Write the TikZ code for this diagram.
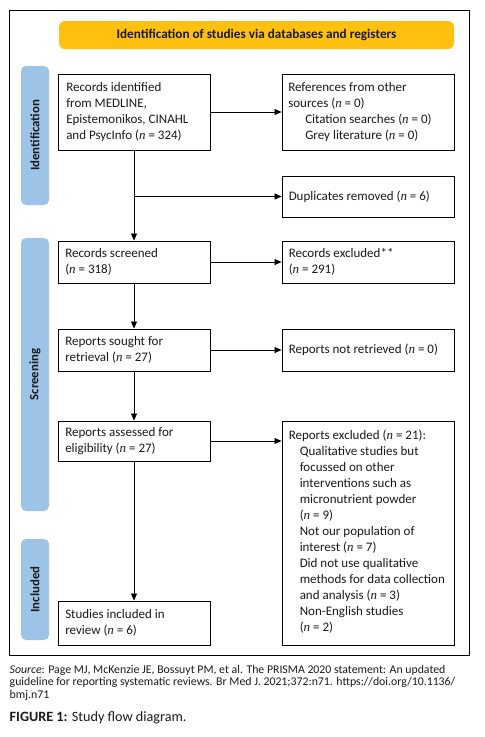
\documentclass[tikz,border=0pt]{standalone}
\usepackage{fontspec}
\setmainfont{Carlito}
\newfontfamily\serifit{Liberation Serif}
\usetikzlibrary{arrows.meta}
\newcommand{\nn}{{\serifit\itshape n}}
\definecolor{gold}{HTML}{FFC010}
\definecolor{barblue}{HTML}{9DC3E6}
\definecolor{txt}{HTML}{1A1A1A}
\begin{document}
\begin{tikzpicture}[x=1pt,y=-1pt,
  box/.style={draw=black, line width=0.9pt, fill=white, inner sep=0pt},
  lbox/.style={box, minimum width=152pt},
  rbox/.style={box, minimum width=172pt},
  btxt/.style={inner sep=0pt, anchor=west, align=left, font=\fontsize{13}{16}\selectfont, text=txt},
  bar/.style={fill=barblue, rounded corners=5pt, minimum width=28pt, inner sep=0pt},
  barlabel/.style={rotate=90, font=\bfseries\fontsize{12.8}{14}\selectfont, text=txt},
  arr/.style={line width=0.8pt, -{Triangle[length=7pt,width=6pt]}}]
\useasboundingbox (0,0) rectangle (485,737);
\node[draw=black, line width=0.8pt, minimum width=459.5pt, minimum height=644.3pt, inner sep=0pt] (frame) at (239.25,332.85) {};
\node[fill=gold, rounded corners=6pt, minimum width=395pt, minimum height=28pt, inner sep=0pt,
  font=\bfseries\fontsize{13.2}{15}\selectfont, text=txt] (banner) at (256.5,35) {Identification of studies via databases and registers};
\node[bar, minimum height=139pt] (bid) at (35,135.5) {};
\node[barlabel] (lid) at (bid.center) {Identification};
\node[bar, minimum height=273pt] (bsc) at (35,374.5) {};
\node[barlabel] (lsc) at (bsc.center) {Screening};
\node[bar, minimum height=101pt] (bin) at (35,589.5) {};
\node[barlabel] (lin) at (bin.center) {Included};
% boxes
\node[lbox, minimum height=76pt] (b1) at (134,112) {};
\node[rbox, minimum height=76pt] (r1) at (368,112) {};
\node[rbox, minimum height=41pt] (dup) at (368,196.5) {};
\node[lbox, minimum height=42pt] (rs) at (134,262) {};
\node[rbox, minimum height=42pt] (re) at (368,262) {};
\node[lbox, minimum height=42pt] (so) at (134,350) {};
\node[rbox, minimum height=42pt] (nr) at (368,350) {};
\node[lbox, minimum height=40pt] (ra) at (134,441) {};
\node[rbox, minimum height=224pt] (rx) at (368,533) {};
\node[lbox, minimum height=44pt] (si) at (134,623) {};
% texts
\node[btxt] (t1) at ([xshift=8.5pt]b1.west) {Records identified\\from MEDLINE,\\Epistemonikos, CINAHL\\and PsycInfo (\nn{} = 324)};
\node[btxt] (tr1) at ([xshift=6.5pt]r1.west) {References from other\\sources (\nn{} = 0)\\\hspace*{17pt}Citation searches (\nn{} = 0)\\\hspace*{17pt}Grey literature (\nn{} = 0)};
\node[btxt] (tdup) at ([xshift=7pt]dup.west) {Duplicates removed (\nn{} = 6)};
\node[btxt] (trs) at ([xshift=7.5pt]rs.west) {Records screened\\(\nn{} = 318)};
\node[btxt] (tre) at ([xshift=7pt]re.west) {Records excluded**\\(\nn{} = 291)};
\node[btxt] (tso) at ([xshift=7.5pt]so.west) {Reports sought for\\retrieval (\nn{} = 27)};
\node[btxt] (tnr) at ([xshift=7pt]nr.west) {Reports not retrieved (\nn{} = 0)};
\node[btxt] (tra) at ([xshift=7.5pt]ra.west) {Reports assessed for\\eligibility (\nn{} = 27)};
\node[btxt] (trx) at ([xshift=7pt,yshift=1pt]rx.west) {Reports excluded (\nn{} = 21):\\
\hspace*{11pt}Qualitative studies but\\
\hspace*{11pt}focussed on other\\
\hspace*{11pt}interventions such as\\
\hspace*{11pt}micronutrient powder\\
\hspace*{11pt}(\nn{} = 9)\\
\hspace*{11pt}Not our population of\\
\hspace*{11pt}interest (\nn{} = 7)\\
\hspace*{11pt}Did not use qualitative\\
\hspace*{11pt}methods for data collection\\
\hspace*{11pt}and analysis (\nn{} = 3)\\
\hspace*{11pt}Non-English studies\\
\hspace*{11pt}(\nn{} = 2)};
\node[btxt] (tsi) at ([xshift=7.5pt]si.west) {Studies included in\\review (\nn{} = 6)};
% connectors
\draw[arr] (b1) -- (r1);
\draw[arr] (b1) -- (rs);
\coordinate (jd) at (b1.south |- dup.west);
\draw[arr] (jd) -- (dup);
\draw[arr] (rs) -- (re);
\draw[arr] (rs) -- (so);
\draw[arr] (so) -- (nr);
\draw[arr] (so) -- (ra);
\draw[arr] (ra.east) -- (ra.east -| rx.west);
\draw[arr] (ra) -- (si);
% caption
\node[anchor=north west, inner sep=0pt, align=left, font=\fontsize{11.8}{12.4}\selectfont, text=txt] (src) at (9.5,665) {\textit{Source}: Page MJ, McKenzie JE, Bossuyt PM, et al. The PRISMA 2020 statement: An updated\\guideline for reporting systematic reviews. Br Med J. 2021;372:n71. https://doi.org/10.1136/\\bmj.n71};
\node[anchor=north west, inner sep=0pt, font=\fontsize{14.2}{15}\selectfont, text=txt] (cap) at (9.5,711) {\textbf{FIGURE 1:} Study flow diagram.};
\end{tikzpicture}
\end{document}
